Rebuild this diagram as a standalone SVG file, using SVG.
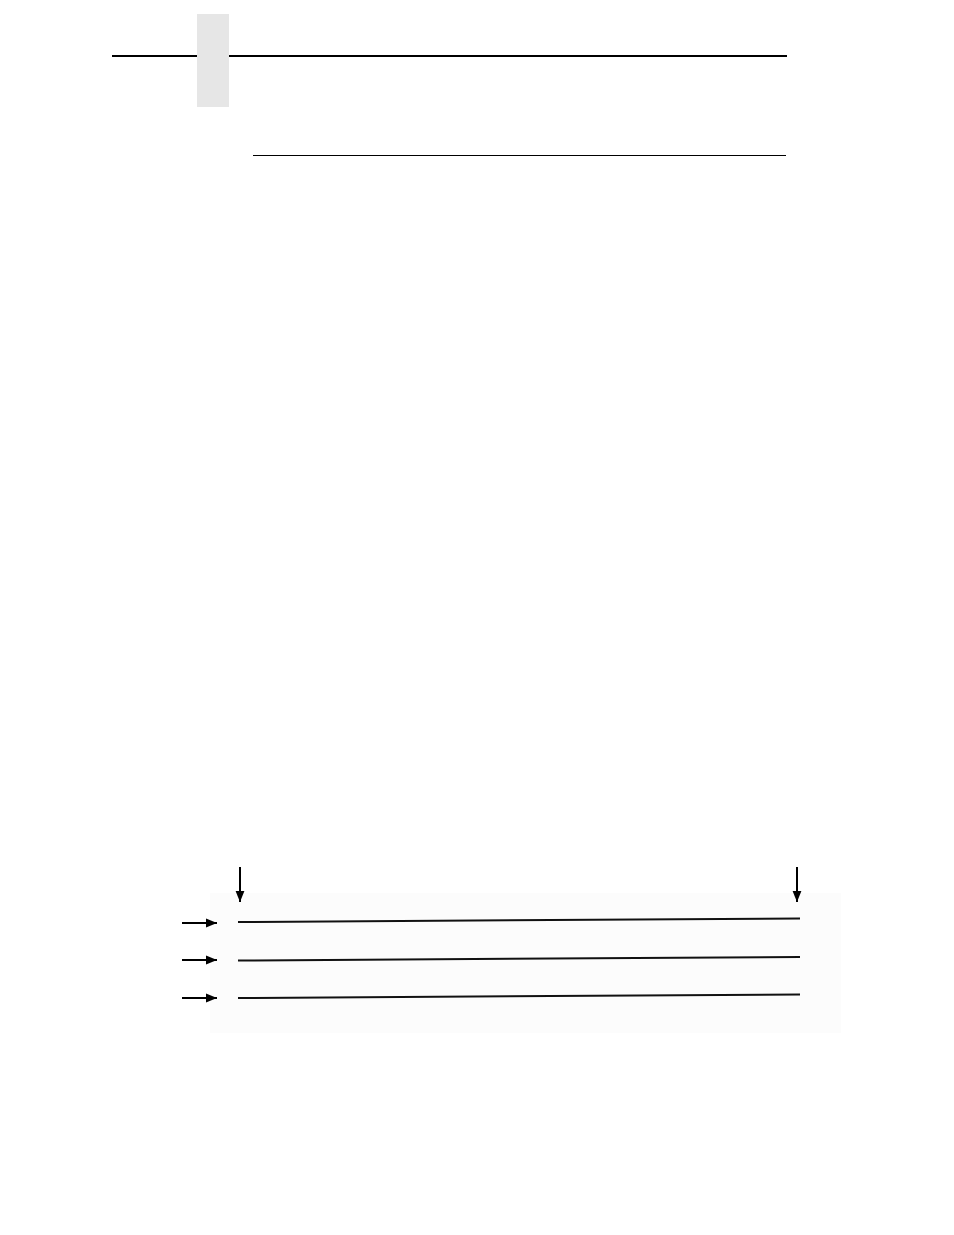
<svg xmlns="http://www.w3.org/2000/svg" width="954" height="1235" viewBox="0 0 954 1235">
<style>
.rule{stroke:#000;fill:none}
.conn{stroke:#000;stroke-width:2;fill:none}
.ln{stroke:#111;stroke-width:2;fill:none}
</style>
<defs>
<marker id="ah" viewBox="0 0 10 10" refX="10" refY="5" markerWidth="5.5" markerHeight="5.5" orient="auto" markerUnits="strokeWidth">
<path d="M0,1 L10,5 L0,9 z" fill="#000"/>
</marker>
</defs>
<rect width="954" height="1235" fill="#fff"/>
<g id="header">
<rect x="197" y="14" width="32" height="93" fill="#e6e6e6"/>
<line class="rule" x1="112" y1="56" x2="197" y2="56" stroke-width="2"/>
<line class="rule" x1="229" y1="56" x2="787" y2="56" stroke-width="2"/>
<line class="rule" x1="253" y1="155.5" x2="786" y2="155.5" stroke-width="1"/>
</g>
<g id="figure">
<rect x="210" y="893" width="631" height="140" fill="#fcfcfc"/>
</g>
<g id="lines">
<line class="ln" x1="238" y1="922" x2="800" y2="918.5"/>
<line class="ln" x1="238" y1="960.5" x2="800" y2="957"/>
<line class="ln" x1="238" y1="998" x2="800" y2="994.5"/>
</g>
<g id="connectors">
<line class="conn" x1="240" y1="867" x2="240" y2="902" marker-end="url(#ah)"/>
<line class="conn" x1="797" y1="867" x2="797" y2="902" marker-end="url(#ah)"/>
<line class="conn" x1="182" y1="923" x2="217" y2="923" marker-end="url(#ah)"/>
<line class="conn" x1="182" y1="960" x2="217" y2="960" marker-end="url(#ah)"/>
<line class="conn" x1="182" y1="998" x2="217" y2="998" marker-end="url(#ah)"/>
</g>
</svg>
